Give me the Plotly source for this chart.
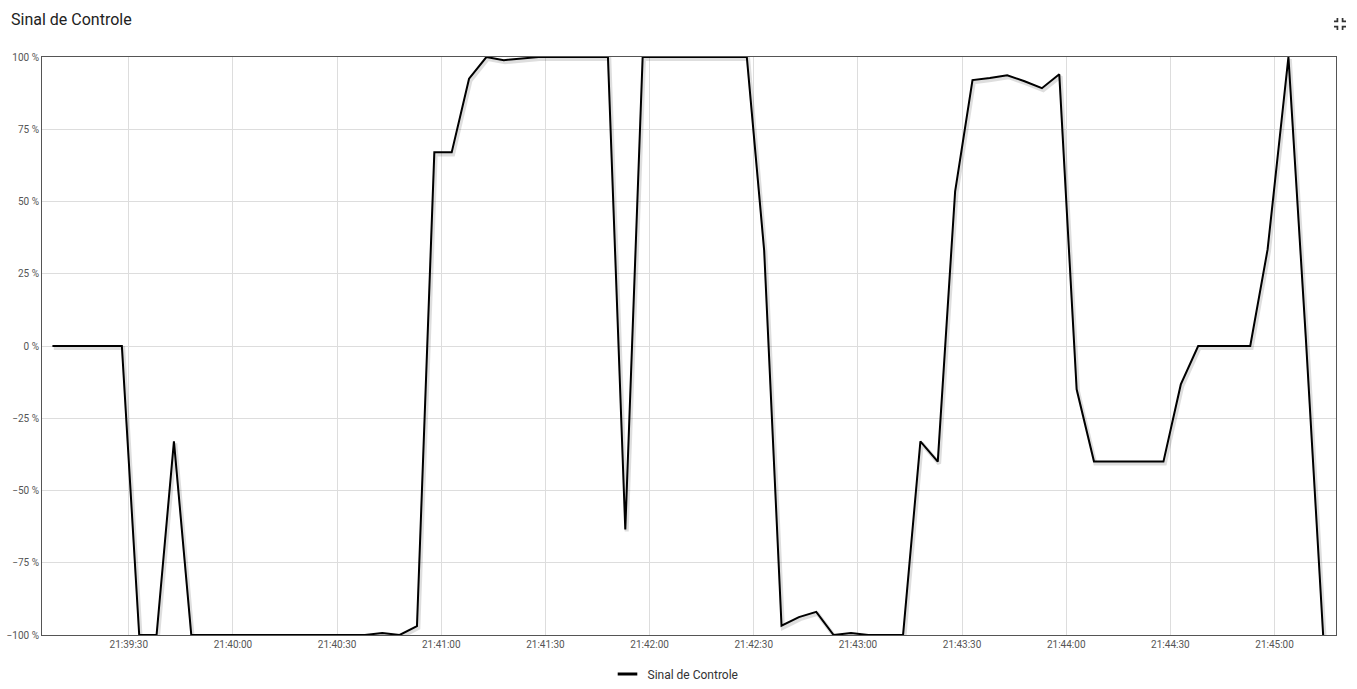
import re
import plotly.graph_objects as go

# ============================================================
# Sinal de Controle — control signal over ~6 minutes
# ============================================================

DATE = "2021-01-01 "

times = [
    "21:39:08", "21:39:28", "21:39:33", "21:39:38", "21:39:43", "21:39:48",
    "21:40:38", "21:40:43", "21:40:48", "21:40:53", "21:40:58", "21:41:03",
    "21:41:08", "21:41:13", "21:41:18", "21:41:23", "21:41:28", "21:41:48",
    "21:41:53", "21:41:58", "21:42:28", "21:42:33", "21:42:38", "21:42:43",
    "21:42:48", "21:42:53", "21:42:58", "21:43:03", "21:43:13", "21:43:18",
    "21:43:23", "21:43:28", "21:43:33", "21:43:38", "21:43:43", "21:43:48",
    "21:43:53", "21:43:58", "21:44:03", "21:44:08", "21:44:28", "21:44:33",
    "21:44:38", "21:44:53", "21:44:58", "21:45:04", "21:45:09", "21:45:14",
]
signal = [
    0, 0, -100, -100, -33, -100,
    -100, -99.3, -100, -96.9, 67, 67,
    92.5, 100, 98.9, 99.5, 100, 100,
    -63.5, 100, 100, 33, -96.8, -93.8,
    -92, -100, -99.3, -100, -100, -33,
    -40, 53.5, 92, 92.7, 93.7, 91.6,
    89.2, 94, -15, -40, -40, -13.3,
    0, 0, 33.4, 100, 3, -100,
]

x_range = [DATE + "21:39:05", DATE + "21:45:17.7"]
y_range = [-100, 100]

# plot area in pixels (1357 x 689 window)
W, H = 1357, 689
L, R, T, B = 42, 21, 57, 54
PW, PH = W - L - R, H - T - B

x_vals = [DATE + t for t in times]

fig = go.Figure()

# soft drop shadow: same data on a slightly shifted, hidden axis pair
fig.add_trace(go.Scatter(
    x=x_vals, y=signal, mode="lines",
    line=dict(color="rgba(0,0,0,0.13)", width=4),
    xaxis="x2", yaxis="y2", showlegend=False, hoverinfo="skip",
))
fig.add_trace(go.Scatter(
    x=x_vals, y=signal, mode="lines", name="Sinal de Controle",
    line=dict(color="#000000", width=2), showlegend=False,
))
# legend entry only: short thick dash like the original swatch
fig.add_trace(go.Scatter(
    x=[None], y=[None], mode="markers", name="Sinal de Controle",
    marker=dict(symbol="line-ew", size=14, color="#000000",
                line=dict(color="#000000", width=3)),
))


def to_paper_path(d, cx, cy, s):
    # convert a 24x24 material icon path (absolute + relative h/v) to paper coords
    out, px, py = [], 0.0, 0.0
    sx, sy = 0.0, 0.0
    for cmd, args in re.findall(r"([MmHhVvLlZz])([^MmHhVvLlZz]*)", d):
        nums = [float(n) for n in re.findall(r"-?\d*\.?\d+", args)]
        if cmd == "M":
            px, py = nums[0], nums[1]; sx, sy = px, py
        elif cmd == "m":
            px, py = px + nums[0], py + nums[1]; sx, sy = px, py
        elif cmd == "h":
            px += nums[0]
        elif cmd == "H":
            px = nums[0]
        elif cmd == "v":
            py += nums[0]
        elif cmd == "V":
            py = nums[0]
        elif cmd in "Zz":
            out.append("Z"); px, py = sx, sy; continue
        X = (cx + (px - 12) * s - L) / PW
        Y = (H - B - (cy + (py - 12) * s)) / PH
        out.append(("M" if cmd in "Mm" else "L") + f"{X:.5f},{Y:.5f}")
    return " ".join(out)


icon = ("M5 16h3v3h2v-5H5v2z M8 8H5v2h5V5H8v3z M14 19h2v-3h3v-2h-5v5z "
        "M16 8V5h-2v5h5V8h-3z")
fig.add_shape(type="path", xref="paper", yref="paper",
              path=to_paper_path(icon, 1340, 24, 0.86),
              fillcolor="#333333", line=dict(width=0))

axis_common = dict(
    showline=True, linecolor="#555555", linewidth=1, mirror=True,
    gridcolor="#dddddd", gridwidth=1, zeroline=False, ticks="",
)

fig.update_layout(
    width=W, height=H,
    margin=dict(l=L, r=R, t=T, b=B, autoexpand=False),
    paper_bgcolor="white", plot_bgcolor="white",
    font=dict(family="Roboto, sans-serif", color="#555555", size=10),
    title=dict(text="Sinal de Controle", x=11 / W, xanchor="left",
               y=1 - 19 / H, yanchor="middle", xref="container", yref="container",
               font=dict(size=16, color="#222222")),
    xaxis=dict(range=x_range, type="date", tickformat="%H:%M:%S",
               dtick=30000, tick0=DATE + "21:39:00",
               tickfont=dict(size=10), **axis_common),
    yaxis=dict(range=y_range, dtick=25, ticksuffix=" %",
               tickfont=dict(size=10), **axis_common),
    # shadow axes: shift by ~1.5px right and ~2px down
    xaxis2=dict(range=[DATE + "21:39:04.6", DATE + "21:45:17.3"], type="date",
                overlaying="x", visible=False),
    yaxis2=dict(range=[-99.3, 100.7], overlaying="y", visible=False),
    legend=dict(orientation="h", x=(W / 2 - 3 - L) / PW, xanchor="center",
                y=(H - B - 674) / PH, yanchor="middle",
                font=dict(size=12, color="#333333")),
    showlegend=True,
)

# page has a default 8px body margin; drop it so the figure fills the window
fig.write_html("out.html", config={"displayModeBar": False},
               post_script="document.body.style.margin='0';"
                           "document.body.style.overflow='hidden';")
